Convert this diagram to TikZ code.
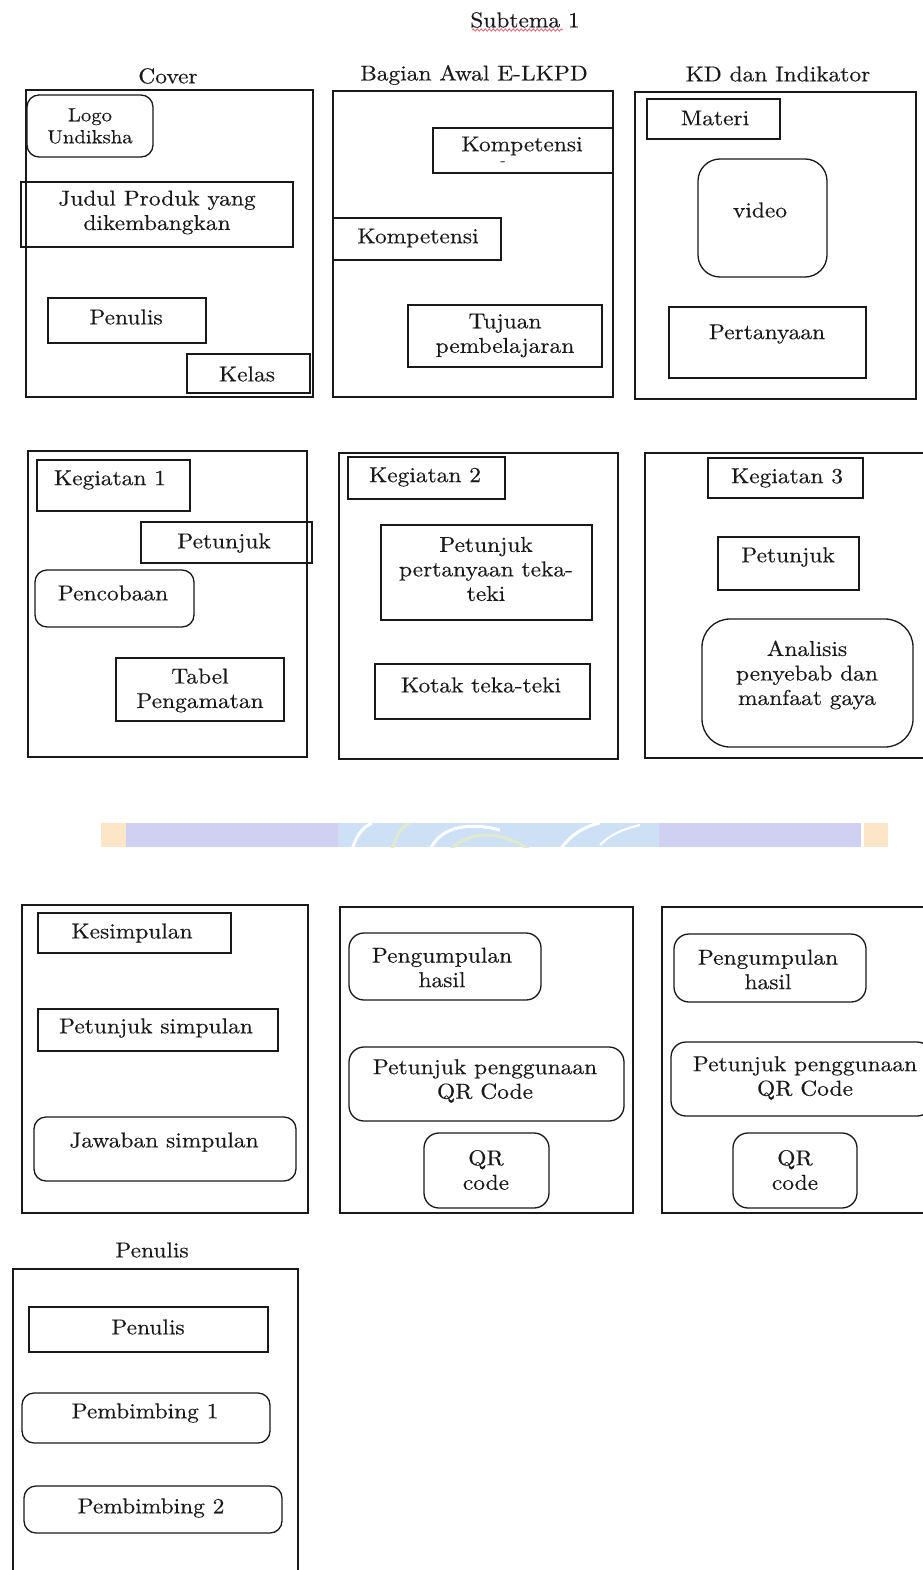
\documentclass[tikz,border=0pt]{standalone}
\usepackage{fontspec}
\setmainfont{lmroman10-regular.otf}[FakeStretch=1.09, FakeBold=0.3]
\usetikzlibrary{decorations.pathmorphing}
\definecolor{wmlav}{RGB}{208,208,242}
\definecolor{wmorg}{RGB}{252,230,200}
\definecolor{wmblue}{RGB}{205,224,246}
\definecolor{wmgreen}{RGB}{222,236,205}
\definecolor{squig}{RGB}{236,110,120}
\definecolor{ink}{RGB}{25,25,25}
\tikzset{
  frame/.style={draw=ink, line width=1.3pt, rectangle, inner sep=0pt},
  rbox/.style={draw=ink, line width=1.3pt, rounded corners=12pt, inner sep=0pt},
  lbl/.style={font=\fontsize{21.5}{24.5}\selectfont, text=ink, align=center, inner sep=0pt, anchor=center},
}
\newcommand\boxat[6]{%
  \node[#2, minimum width={(#5-#3)*1pt}, minimum height={(#6-#4)*1pt}] (#1) at ({(#3+#5)/2},{(#4+#6)/2}) {};}
\begin{document}
\begin{tikzpicture}[x=1pt, y=-1pt]
\useasboundingbox[fill=white] (0,0) rectangle (922,1570);

% title
\node[lbl] (title) at (525,20) {Subtema 1};
\coordinate (ulA) at (472,30);
\coordinate (ulB) at (563,30);
\draw[squig, line width=0.9pt, decorate, decoration={snake, amplitude=1.1pt, segment length=4pt}] (ulA) -- (ulB);

% row 1 headings
\node[lbl] (hcover) at (168,76) {Cover};
\node[lbl] (hawal) at (474,75) {Bagian Awal E-LKPD};
\node[lbl] (hkd) at (778,74) {KD dan Indikator};

% Cover
\boxat{cover}{frame}{26}{90}{313}{397}
\boxat{logo}{rbox}{27}{95}{153}{157}
\node[lbl, font=\fontsize{19}{22}\selectfont] (logot) at (90,126) {Logo\\Undiksha};
\boxat{judul}{frame}{21}{182}{293}{247}
\node[lbl] (judult) at (157,212.5) {Judul Produk yang\\dikembangkan};
\boxat{penA}{frame}{48}{298}{206}{343}
\node[lbl] (penAt) at (126,317) {Penulis};
\boxat{kelas}{frame}{187}{354}{310}{393}
\node[lbl] (kelast) at (247,374) {Kelas};

% Bagian Awal
\boxat{awal}{frame}{333}{91}{613}{397}
\boxat{kompA}{frame}{433}{128}{613}{173}
\node[lbl] (kompAt) at (522,146) {Kompetensi};
\node[lbl, font=\fontsize{14}{16}\selectfont] (kompAd) at (503,163) {-};
\boxat{kompB}{frame}{333}{218}{501}{260}
\node[lbl] (kompBt) at (418,238) {Kompetensi};
\boxat{tujuan}{frame}{408}{305}{602}{367}
\node[lbl] (tujuant) at (505,335.5) {Tujuan\\pembelajaran};

% KD dan Indikator
\boxat{kd}{frame}{635}{92}{916}{399}
\boxat{materi}{frame}{647}{99}{780}{139}
\node[lbl] (materit) at (715,118) {Materi};
\boxat{video}{rbox, rounded corners=22pt}{698}{159}{827}{277}
\node[lbl] (videot) at (760,210) {video};
\boxat{tanya}{frame}{669}{307}{866}{378}
\node[lbl] (tanyat) at (767,334) {Pertanyaan};

% row 2: Kegiatan 1
\boxat{keg1}{frame}{28}{451}{307}{757}
\boxat{k1t}{frame}{37}{460}{190}{511}
\node[lbl] (k1tt) at (110,480) {Kegiatan 1};
\boxat{pet1}{frame}{141}{522}{312}{563}
\node[lbl] (pet1t) at (224,543) {Petunjuk};
\boxat{coba}{rbox}{35}{570}{194}{627}
\node[lbl] (cobat) at (113,593) {Pencobaan};
\boxat{tabel}{frame}{116}{658}{284}{721}
\node[lbl] (tabelt) at (200,690.5) {Tabel\\Pengamatan};

% Kegiatan 2
\boxat{keg2}{frame}{339}{453}{618}{759}
\boxat{k2t}{frame}{348}{457}{505}{499}
\node[lbl] (k2tt) at (425,477) {Kegiatan 2};
\boxat{ppt}{frame}{381}{525}{592}{620}
\node[lbl] (pptt) at (486,569) {Petunjuk\\pertanyaan teka-\\teki};
\boxat{kotak}{frame}{375}{664}{590}{719}
\node[lbl] (kotakt) at (481,685) {Kotak teka-teki};

% Kegiatan 3
\boxat{keg3}{frame}{645}{453}{932}{758}
\boxat{k3t}{frame}{708}{458}{863}{498}
\node[lbl] (k3tt) at (787,478) {Kegiatan 3};
\boxat{pet3}{frame}{718}{537}{859}{590}
\node[lbl] (pet3t) at (788,557) {Petunjuk};
\boxat{anal}{rbox, rounded corners=28pt}{702}{619}{913}{747}
\node[lbl] (analt) at (807,675) {Analisis\\penyebab dan\\manfaat gaya};

% watermark band
\fill[wmorg] (101,823) rectangle (126,847);
\fill[wmlav] (126,823) rectangle (861,847);
\fill[wmorg] (864,823) rectangle (888,847);
\fill[wmblue] (338,823) rectangle (659,847);
\begin{scope}
\clip (338,823) rectangle (659,847);
\draw[white, line width=3pt] (352,850) .. controls (358,830) and (366,826) .. (372,823);
\draw[wmgreen, line width=3pt] (392,850) .. controls (396,835) and (402,826) .. (410,823);
\draw[white, line width=3pt] (430,850) .. controls (440,826) and (470,822) .. (500,830);
\draw[wmgreen, line width=3pt] (450,850) .. controls (470,830) and (500,830) .. (530,850);
\draw[white, line width=3pt] (560,850) .. controls (570,835) and (585,826) .. (600,823);
\draw[white, line width=2pt] (600,845) .. controls (610,835) and (620,830) .. (640,825);
\end{scope}

% row 3: Kesimpulan
\boxat{kes}{frame}{22}{905}{308}{1213}
\boxat{kest}{frame}{38}{913}{231}{953}
\node[lbl] (kestt) at (132,933) {Kesimpulan};
\boxat{psimp}{frame}{38}{1009}{278}{1051}
\node[lbl] (psimpt) at (156,1028) {Petunjuk simpulan};
\boxat{jaw}{rbox}{34}{1117}{296}{1181}
\node[lbl] (jawt) at (164,1142) {Jawaban simpulan};

% box 2
\boxat{bxB}{frame}{340}{907}{633}{1213}
\boxat{phA}{rbox, rounded corners=15pt}{349}{933}{541}{1000}
\node[lbl] (phAt) at (442,967.5) {Pengumpulan\\hasil};
\boxat{pqA}{rbox, rounded corners=15pt}{349}{1047}{624}{1121}
\node[lbl] (pqAt) at (485,1081) {Petunjuk penggunaan\\QR Code};
\boxat{qrA}{rbox, rounded corners=15pt}{424}{1133}{549}{1208}
\node[lbl] (qrAt) at (486,1170) {QR\\code};

% box 3
\boxat{bxC}{frame}{662}{907}{932}{1213}
\boxat{phB}{rbox, rounded corners=15pt}{674}{934}{866}{1002}
\node[lbl] (phBt) at (768,969.5) {Pengumpulan\\hasil};
\boxat{pqB}{rbox, rounded corners=15pt}{671}{1042}{932}{1116}
\node[lbl] (pqBt) at (805,1078) {Petunjuk penggunaan\\QR Code};
\boxat{qrB}{rbox, rounded corners=15pt}{733}{1133}{857}{1208}
\node[lbl] (qrBt) at (795,1170) {QR\\code};

% row 4: Penulis
\node[lbl] (hpen) at (152,1250) {Penulis};
\boxat{pbox}{frame}{13}{1269}{298}{1590}
\boxat{penB}{frame}{29}{1307}{268}{1352}
\node[lbl] (penBt) at (148,1327) {Penulis};
\boxat{pb1}{rbox}{22}{1393}{270}{1443}
\node[lbl] (pb1t) at (145,1413) {Pembimbing 1};
\boxat{pb2}{rbox}{24}{1486}{282}{1533}
\node[lbl] (pb2t) at (151,1508) {Pembimbing 2};
\end{tikzpicture}
\end{document}
